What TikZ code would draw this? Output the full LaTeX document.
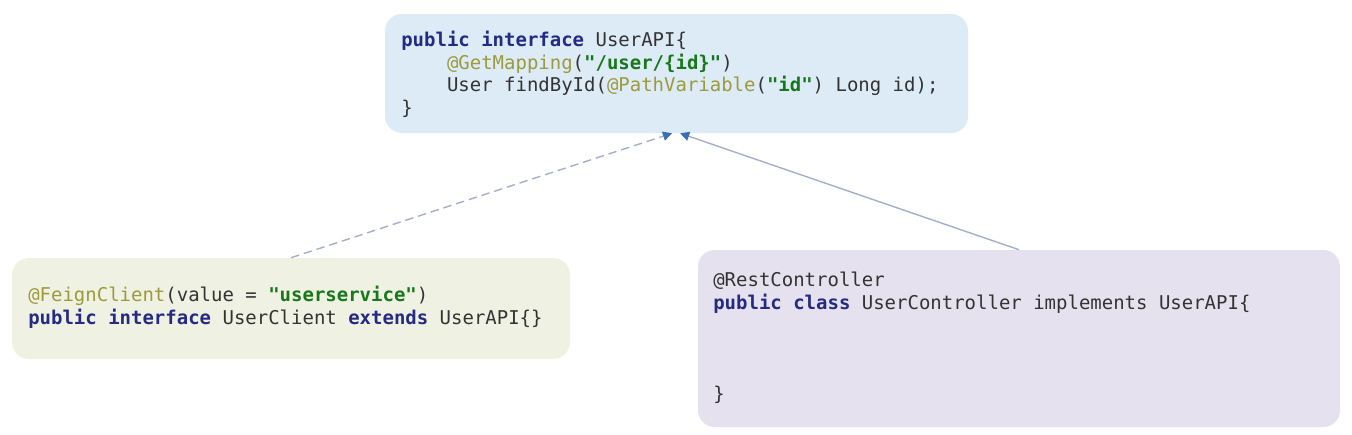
\documentclass[tikz,border=0pt]{standalone}
\usepackage{fontspec}
\setmonofont{DejaVu Sans Mono}
\usepackage{xcolor}
\usetikzlibrary{arrows.meta,positioning}

\definecolor{apifill}{HTML}{DCEBF6}
\definecolor{clientfill}{HTML}{EFF2E3}
\definecolor{ctrlfill}{HTML}{E5E1EE}
\definecolor{kwnavy}{HTML}{262A85}
\definecolor{annoolive}{HTML}{9D9A3C}
\definecolor{strgreen}{HTML}{17781A}
\definecolor{codegray}{HTML}{333333}
\definecolor{linkgray}{HTML}{A4AEC8}
\definecolor{tipblue}{HTML}{3B6FB6}

\newcommand{\codesize}{\fontsize{13.5pt}{16pt}\selectfont\ttfamily}
\newcommand{\kw}[1]{\textcolor{kwnavy}{\textbf{#1}}}
\newcommand{\anno}[1]{\textcolor{annoolive}{#1}}
\newcommand{\str}[1]{\textcolor{strgreen}{\textbf{#1}}}
\newcommand{\tab}{\hphantom{xxxx}}

\tikzset{
  codebox/.style={rectangle, rounded corners=12pt, draw=none, inner sep=0pt},
  codetext/.style={anchor=base west, align=left, inner sep=0pt, text=codegray, font=\codesize},
  link/.style={draw=linkgray, line width=1pt, -{Triangle[length=6.5pt,width=6.5pt,color=tipblue]}}
}

\begin{document}
\begin{tikzpicture}[x=0.025cm,y=-0.025cm]
  \useasboundingbox (0,0) rectangle (1352,434);

  % Interface
  \node[codebox, fill=apifill, minimum width=583*0.025cm, minimum height=119*0.025cm] (api) at (676.5,73.5) {};
  \node[codetext] (apitext) at (401,114) {\kw{public} \kw{interface} UserAPI\{\\
    \tab\anno{@GetMapping}(\str{"/user/\{id\}"})\\
    \tab User findById(\anno{@PathVariable}(\str{"id"}) Long id);\\
    \}};

  % Feign client
  \node[codebox, fill=clientfill, minimum width=558*0.025cm, minimum height=101*0.025cm] (client) at (291,308.5) {};
  \node[codetext] (clienttext) at (28,324) {\anno{@FeignClient}(value = \str{"userservice"})\\
    \kw{public} \kw{interface} UserClient \kw{extends} UserAPI\{\}};

  % Controller
  \node[codebox, fill=ctrlfill, minimum width=642*0.025cm, minimum height=177*0.025cm] (ctrl) at (1019,338.5) {};
  \node[codetext] (ctrltext) at (713,400) {@RestController\\
    \kw{public} \kw{class} UserController implements UserAPI\{\\[48.5pt]
    \}};

  % Links
  \draw[link, dashed, dash pattern=on 6pt off 3.5pt] (client.north) -- ([xshift=-0.11cm]api.south);
  \draw[link] (ctrl.north) -- ([xshift=0.09cm]api.south);
\end{tikzpicture}
\end{document}
